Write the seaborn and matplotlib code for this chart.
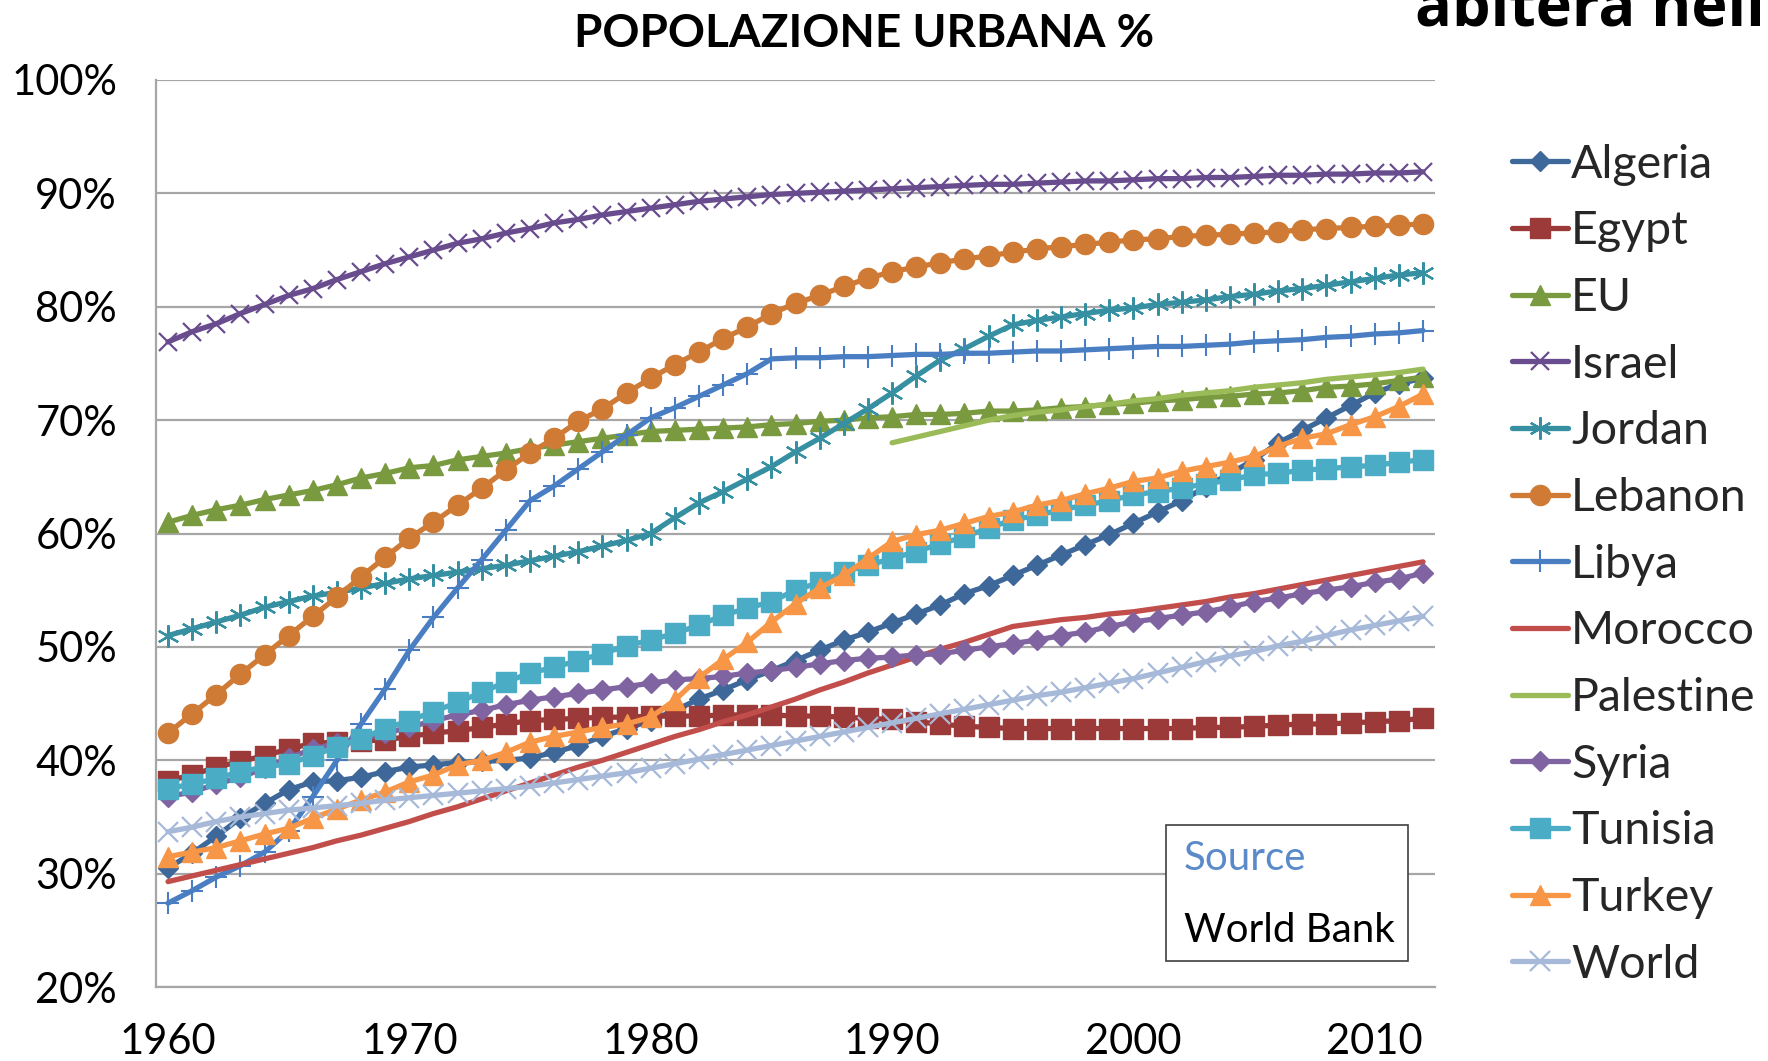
import numpy as np
import pandas as pd
import matplotlib
matplotlib.use("Agg")
import matplotlib.pyplot as plt
import seaborn as sns
from matplotlib.patches import Rectangle

years = list(range(1960, 2013))

algeria = [30.5, 31.8, 33.3, 34.9, 36.2, 37.4, 38.1, 38.2, 38.5, 39.0, 39.4,
           39.6, 39.8, 39.9, 40.0, 40.2, 40.7, 41.3, 42.1, 42.8, 43.5,
           44.4, 45.4, 46.2, 47.1, 47.9, 48.8, 49.7, 50.6, 51.3, 52.1,
           52.9, 53.7, 54.7, 55.4, 56.3, 57.2, 58.1, 59.0, 59.9, 60.9,
           61.9, 62.9, 64.1, 65.3, 66.5, 68.0, 69.1, 70.2, 71.3, 72.4,
           73.2, 73.7]
egypt = [38.2, 38.7, 39.4, 39.9, 40.4, 41.0, 41.5, 41.6, 41.7, 41.8, 42.1,
         42.4, 42.6, 42.9, 43.2, 43.5, 43.6, 43.7, 43.8, 43.8, 43.9,
         43.9, 43.9, 44.0, 44.0, 44.0, 43.9, 43.9, 43.8, 43.7, 43.6,
         43.4, 43.2, 43.0, 42.9, 42.8, 42.8, 42.8, 42.8, 42.8, 42.8,
         42.8, 42.8, 42.9, 42.9, 43.0, 43.1, 43.2, 43.2, 43.3, 43.4,
         43.5, 43.7]
eu = [61.0, 61.6, 62.1, 62.5, 63.0, 63.4, 63.8, 64.3, 64.9, 65.3, 65.8,
      66.0, 66.5, 66.8, 67.1, 67.5, 67.8, 68.1, 68.4, 68.7, 69.0,
      69.1, 69.2, 69.3, 69.4, 69.6, 69.7, 69.9, 70.0, 70.2, 70.3,
      70.5, 70.5, 70.6, 70.8, 70.8, 70.9, 71.1, 71.2, 71.4, 71.5,
      71.7, 71.8, 72.0, 72.1, 72.3, 72.4, 72.6, 72.9, 73.0, 73.2,
      73.5, 73.8]
israel = [76.9, 77.8, 78.5, 79.4, 80.2, 81.0, 81.6, 82.4, 83.1, 83.8, 84.4,
          85.0, 85.6, 86.0, 86.5, 86.9, 87.4, 87.7, 88.1, 88.4, 88.7,
          89.0, 89.3, 89.5, 89.7, 89.9, 90.0, 90.1, 90.2, 90.3, 90.4,
          90.5, 90.6, 90.7, 90.8, 90.8, 90.9, 91.0, 91.1, 91.1, 91.2,
          91.3, 91.3, 91.4, 91.4, 91.5, 91.6, 91.6, 91.7, 91.7, 91.8,
          91.8, 91.9]
jordan = [51.0, 51.6, 52.2, 52.8, 53.5, 54.0, 54.5, 54.8, 55.2, 55.6, 56.0,
          56.3, 56.6, 56.9, 57.2, 57.6, 58.0, 58.4, 58.9, 59.4, 60.0,
          61.4, 62.7, 63.7, 64.8, 65.9, 67.2, 68.4, 69.7, 71.0, 72.4,
          73.9, 75.3, 76.3, 77.4, 78.4, 78.8, 79.1, 79.4, 79.7, 79.9,
          80.2, 80.4, 80.6, 80.9, 81.1, 81.4, 81.6, 81.9, 82.2, 82.5,
          82.8, 83.0]
lebanon = [42.4, 44.1, 45.8, 47.6, 49.3, 51.0, 52.7, 54.4, 56.2, 57.9, 59.6,
           61.0, 62.5, 64.0, 65.6, 67.1, 68.4, 69.9, 71.0, 72.4, 73.7,
           74.9, 76.0, 77.2, 78.2, 79.4, 80.3, 81.0, 81.8, 82.5, 83.1,
           83.5, 83.9, 84.2, 84.5, 84.8, 85.1, 85.3, 85.5, 85.7, 85.9,
           86.0, 86.2, 86.3, 86.4, 86.5, 86.6, 86.8, 86.9, 87.0, 87.1,
           87.2, 87.3]
libya = [27.4, 28.5, 29.7, 30.7, 31.9, 33.8, 36.8, 40.0, 43.2, 46.3, 49.7,
         52.6, 55.2, 57.7, 60.3, 62.9, 64.2, 65.7, 67.2, 68.7, 70.2,
         71.1, 72.1, 73.1, 74.1, 75.4, 75.5, 75.5, 75.6, 75.6, 75.7,
         75.8, 75.8, 75.9, 75.9, 76.0, 76.1, 76.1, 76.2, 76.3, 76.4,
         76.5, 76.5, 76.6, 76.7, 76.9, 77.0, 77.1, 77.3, 77.4, 77.6,
         77.7, 77.9]
morocco = [29.3, 29.8, 30.3, 30.8, 31.3, 31.8, 32.3, 32.9, 33.4, 34.0, 34.6,
           35.3, 35.9, 36.6, 37.3, 38.0, 38.7, 39.4, 40.0, 40.7, 41.4,
           42.1, 42.7, 43.4, 44.0, 44.7, 45.4, 46.2, 46.9, 47.7, 48.4,
           49.1, 49.8, 50.4, 51.1, 51.8, 52.1, 52.4, 52.6, 52.9, 53.1,
           53.4, 53.7, 54.0, 54.4, 54.7, 55.1, 55.5, 55.9, 56.3, 56.7,
           57.1, 57.5]
palestine_years = list(range(1990, 2013))
palestine = [68.0, 68.5, 69.0, 69.5, 70.0, 70.4, 70.7, 70.9, 71.2, 71.4, 71.7,
             71.9, 72.2, 72.4, 72.6, 72.9, 73.1, 73.3, 73.6, 73.8, 74.0,
             74.2, 74.5]
syria = [36.8, 37.2, 37.9, 38.5, 39.3, 40.2, 41.0, 41.5, 41.9, 42.4, 42.9,
         43.5, 44.0, 44.4, 44.9, 45.3, 45.6, 45.9, 46.2, 46.5, 46.8,
         47.1, 47.2, 47.4, 47.7, 47.9, 48.2, 48.5, 48.8, 49.0, 49.1,
         49.3, 49.4, 49.7, 50.0, 50.3, 50.6, 51.0, 51.3, 51.8, 52.2,
         52.5, 52.8, 53.1, 53.5, 54.0, 54.3, 54.7, 55.0, 55.3, 55.7,
         56.0, 56.5]
tunisia = [37.5, 37.9, 38.4, 39.0, 39.4, 39.7, 40.4, 41.2, 41.9, 42.8, 43.5,
           44.3, 45.1, 46.0, 46.9, 47.7, 48.2, 48.8, 49.4, 50.1, 50.6,
           51.2, 51.9, 52.8, 53.4, 54.0, 55.0, 55.7, 56.6, 57.2, 57.8,
           58.4, 59.1, 59.7, 60.5, 61.2, 61.6, 62.1, 62.5, 62.9, 63.4,
           63.7, 64.0, 64.4, 64.7, 65.2, 65.3, 65.6, 65.7, 65.9, 66.0,
           66.3, 66.5]
turkey = [31.5, 31.9, 32.3, 32.9, 33.5, 34.0, 34.9, 35.7, 36.5, 37.2, 38.1,
          38.7, 39.6, 40.0, 40.7, 41.6, 42.1, 42.5, 42.9, 43.2, 43.8,
          45.3, 47.3, 48.9, 50.4, 52.2, 53.8, 55.2, 56.3, 57.8, 59.3,
          59.9, 60.3, 60.9, 61.5, 61.9, 62.5, 62.9, 63.5, 64.0, 64.6,
          64.9, 65.5, 65.9, 66.3, 66.8, 67.7, 68.4, 68.8, 69.6, 70.3,
          71.2, 72.3]
world = [33.7, 34.1, 34.6, 35.0, 35.3, 35.6, 35.8, 36.0, 36.2, 36.5, 36.7,
         36.9, 37.1, 37.3, 37.5, 37.7, 38.0, 38.3, 38.6, 38.9, 39.3,
         39.7, 40.1, 40.5, 40.9, 41.3, 41.7, 42.1, 42.5, 42.9, 43.3,
         43.7, 44.1, 44.5, 44.9, 45.3, 45.7, 46.0, 46.4, 46.8, 47.2,
         47.7, 48.2, 48.7, 49.2, 49.6, 50.1, 50.5, 51.0, 51.5, 51.9,
         52.3, 52.7]

y_ticks = [20, 30, 40, 50, 60, 70, 80, 90, 100]
y_tick_labels = ["20%", "30%", "40%", "50%", "60%", "70%", "80%", "90%", "100%"]
x_ticks = [1960, 1970, 1980, 1990, 2000, 2010]
x_tick_labels = ["1960", "1970", "1980", "1990", "2000", "2010"]

title = "POPOLAZIONE URBANA %"
corner_text = "abiterà nell'"
source_label = "Source"
source_name = "World Bank"

# name, years, values, color, marker, markersize, mew, filled
series = [
    ("Algeria", years, algeria, "#3E6899", "D", 10, 1.0, True),
    ("Egypt", years, egypt, "#9B3A38", "s", 14, 1.0, True),
    ("EU", years, eu, "#7A9A3F", "^", 14, 1.0, True),
    ("Israel", years, israel, "#684C8E", "x", 13, 1.6, False),
    ("Jordan", years, jordan, "#3690A2", (6, 2, 0), 16, 1.6, False),
    ("Lebanon", years, lebanon, "#CF7B36", "o", 14.5, 1.0, True),
    ("Libya", years, libya, "#4A7EC3", "+", 16, 1.5, False),
    ("Morocco", years, morocco, "#C24E4B", None, 0, 0, True),
    ("Palestine", palestine_years, palestine, "#9BBB59", None, 0, 0, True),
    ("Syria", years, syria, "#8064A2", "D", 10, 1.0, True),
    ("Tunisia", years, tunisia, "#4BACC6", "s", 14, 1.0, True),
    ("Turkey", years, turkey, "#F79646", "^", 14, 1.0, True),
    ("World", years, world, "#A7B9D9", "x", 14, 1.6, False),
]

sns.set_style("white")
plt.rcParams["font.family"] = ["Lato", "DejaVu Sans"]

fig = plt.figure(figsize=(17.68, 10.61), dpi=100)
ax = fig.add_axes([0.0882, 0.0697, 0.8117 - 0.0882, 0.9246 - 0.0697])

for z, (name, xs, vals, color, marker, ms, mew, filled) in enumerate(series):
    kw = dict(color=color, linewidth=3.8, zorder=3 + z, label=name)
    if marker is not None:
        kw.update(marker=marker, markersize=ms, markeredgewidth=mew,
                  markeredgecolor=color,
                  markerfacecolor=color if filled else "none")
    sns.lineplot(x=xs, y=vals, ax=ax, estimator=None, sort=False, **kw)

ax.set_xlim(1959.5, 2012.5)
ax.set_ylim(20, 100)
ax.set_yticks(y_ticks)
ax.set_yticklabels(y_tick_labels)
ax.set_xticks(x_ticks)
ax.set_xticklabels(x_tick_labels)
ax.tick_params(axis="both", length=0, labelsize=30, colors="black")
ax.tick_params(axis="y", pad=28)
ax.tick_params(axis="x", pad=26)
ax.set_xlabel("")
ax.set_ylabel("")
ax.yaxis.grid(True, color="#A6A6A6", linewidth=1.6)
ax.xaxis.grid(False)
ax.set_axisbelow(True)
for s in ["top", "right"]:
    ax.spines[s].set_visible(False)
for s in ["left", "bottom"]:
    ax.spines[s].set_color("#A6A6A6")
    ax.spines[s].set_linewidth(1.6)

handles, labels = ax.get_legend_handles_labels()
leg = ax.legend(handles, labels, loc="upper left",
                bbox_to_anchor=(0.855, 0.8645), bbox_transform=fig.transFigure,
                frameon=False, fontsize=33.5, handlelength=1.22,
                handletextpad=0.06, labelspacing=0.53, numpoints=1,
                borderaxespad=0, borderpad=0)

fig.text(0.489, 0.968, title, ha="center", va="center", fontsize=33,
         fontweight="bold", color="black")
fig.text(0.8005, 0.9755, corner_text, ha="left", va="baseline", fontsize=44,
         fontweight="bold", color="black", family=["Open Sans", "DejaVu Sans"])

box = Rectangle((1166 / 1768, 1 - 961 / 1061), (1408 - 1166) / 1768,
                (961 - 825) / 1061, transform=fig.transFigure,
                facecolor="white", edgecolor="#404040", linewidth=1.2,
                zorder=20)
fig.add_artist(box)
fig.text(1184 / 1768, 1 - 859 / 1061, source_label, ha="left", va="center",
         fontsize=29, color="#5B8ACB", zorder=21)
fig.text(1184 / 1768, 1 - 930 / 1061, source_name, ha="left", va="center",
         fontsize=29, color="black", zorder=21)

fig.savefig("out.png", dpi=100)
